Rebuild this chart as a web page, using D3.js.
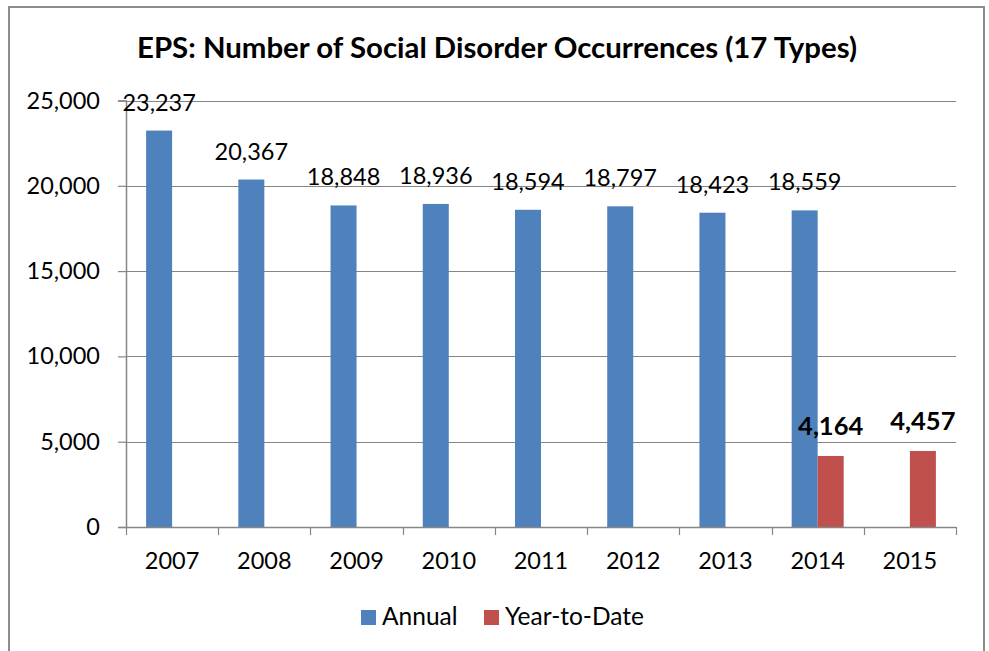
<!DOCTYPE html>
<html>
<head>
<meta charset="utf-8">
<script src="https://cdn.jsdelivr.net/npm/d3@7"></script>
<style>
  html, body { margin: 0; padding: 0; background: #fff; }
  svg { display: block; font-family: Lato, "Open Sans", sans-serif; }
</style>
</head>
<body>
<svg id="chart" width="989" height="651"></svg>
<script>
// Data
const years = ["2007", "2008", "2009", "2010", "2011", "2012", "2013", "2014", "2015"];
const annual = [23237, 20367, 18848, 18936, 18594, 18797, 18423, 18559, null];
const yearToDate = [null, null, null, null, null, null, null, 4164, 4457];
const seriesNames = ["Annual", "Year-to-Date"];
const seriesColors = ["#4F81BD", "#C0504D"];
const yTicks = [0, 5000, 10000, 15000, 20000, 25000];
const title = "EPS: Number of Social Disorder Occurrences (17 Types)";

const svg = d3.select("#chart");
const gridColor = "#868686";

// Outer chart frame
svg.append("rect")
  .attr("x", 9).attr("y", 7)
  .attr("width", 975).attr("height", 660)
  .attr("fill", "#fff")
  .attr("stroke", "#8c8c8c").attr("stroke-width", 2);

// Title
svg.append("text")
  .attr("x", 497).attr("y", 58)
  .attr("text-anchor", "middle")
  .attr("font-weight", 700)
  .attr("font-size", 28)
  .attr("textLength", 720)
  .attr("lengthAdjust", "spacingAndGlyphs")
  .attr("fill", "#000")
  .text(title);

// Scales
const plot = { left: 126, right: 956, top: 100.5, bottom: 527 };
const x0 = d3.scaleBand().domain(years).range([plot.left, plot.right]).padding(0);
const x1 = d3.scaleBand().domain(seriesNames)
  .range([0, x0.bandwidth()]).paddingInner(0).paddingOuter(0.773);
const y = d3.scaleLinear().domain([0, 25000]).range([plot.bottom, plot.top]);

// Horizontal gridlines
svg.append("g")
  .selectAll("line")
  .data(yTicks.filter(d => d > 0))
  .join("line")
  .attr("x1", plot.left).attr("x2", plot.right)
  .attr("y1", d => Math.round(y(d)) + 0.5).attr("y2", d => Math.round(y(d)) + 0.5)
  .attr("stroke", gridColor).attr("stroke-width", 1.2);

// Y axis
const yAxis = svg.append("g")
  .attr("transform", `translate(${plot.left},0)`)
  .call(d3.axisLeft(y).tickValues(yTicks).tickSize(8).tickPadding(18)
    .tickFormat(d3.format(",")));
yAxis.select(".domain").attr("stroke", gridColor).attr("stroke-width", 1.5);
yAxis.selectAll(".tick line").attr("stroke", gridColor).attr("stroke-width", 1.2);
yAxis.selectAll(".tick text")
  .attr("font-size", 23.5).attr("fill", "#000")
  .attr("font-family", "Lato, 'Open Sans', sans-serif");

// Bars
const rows = years.map((yr, i) => ({ year: yr, values: [annual[i], yearToDate[i]] }));
const groups = svg.append("g")
  .selectAll("g")
  .data(rows)
  .join("g")
  .attr("transform", d => `translate(${x0(d.year)},0)`);

groups.selectAll("rect")
  .data(d => d.values.map((v, k) => ({ key: seriesNames[k], k, v })).filter(e => e.v != null))
  .join("rect")
  .attr("x", d => x1(d.key))
  .attr("width", x1.bandwidth())
  .attr("y", d => y(d.v))
  .attr("height", d => y(0) - y(d.v))
  .attr("fill", d => seriesColors[d.k]);

// Value labels
groups.selectAll("text.val")
  .data(d => d.values.map((v, k) => ({ key: seriesNames[k], k, v })).filter(e => e.v != null))
  .join("text")
  .attr("class", "val")
  .attr("x", d => x1(d.key) + x1.bandwidth() / 2)
  .attr("y", d => y(d.v) - (d.k === 0 ? 20 : 21))
  .attr("text-anchor", "middle")
  .attr("font-size", d => d.k === 0 ? 23.5 : 25.5)
  .attr("font-weight", d => d.k === 0 ? 400 : 700)
  .attr("fill", "#000")
  .text(d => d3.format(",")(d.v));

// X axis: baseline, boundary ticks, centered year labels
const xg = svg.append("g");
xg.append("line")
  .attr("x1", plot.left).attr("x2", plot.right)
  .attr("y1", plot.bottom + 0.5).attr("y2", plot.bottom + 0.5)
  .attr("stroke", gridColor).attr("stroke-width", 1.5);
const bounds = years.map(d => x0(d)).concat([x0.range()[1]]);
xg.selectAll("line.tk")
  .data(bounds)
  .join("line")
  .attr("class", "tk")
  .attr("x1", d => Math.round(d) + 0.5).attr("x2", d => Math.round(d) + 0.5)
  .attr("y1", plot.bottom).attr("y2", plot.bottom + 8)
  .attr("stroke", gridColor).attr("stroke-width", 1.2);
xg.selectAll("text")
  .data(years)
  .join("text")
  .attr("x", d => x0(d) + x0.bandwidth() / 2)
  .attr("y", 569)
  .attr("text-anchor", "middle")
  .attr("font-size", 23.5)
  .attr("fill", "#000")
  .text(d => d);

// Legend
const legendPos = [361, 484];
const legend = svg.append("g");
seriesNames.forEach((name, k) => {
  legend.append("rect")
    .attr("x", legendPos[k]).attr("y", 610)
    .attr("width", 15).attr("height", 15)
    .attr("fill", seriesColors[k]);
  legend.append("text")
    .attr("x", legendPos[k] + 21).attr("y", 625)
    .attr("font-size", 24.5)
    .attr("fill", "#000")
    .text(name);
});
</script>
</body>
</html>
